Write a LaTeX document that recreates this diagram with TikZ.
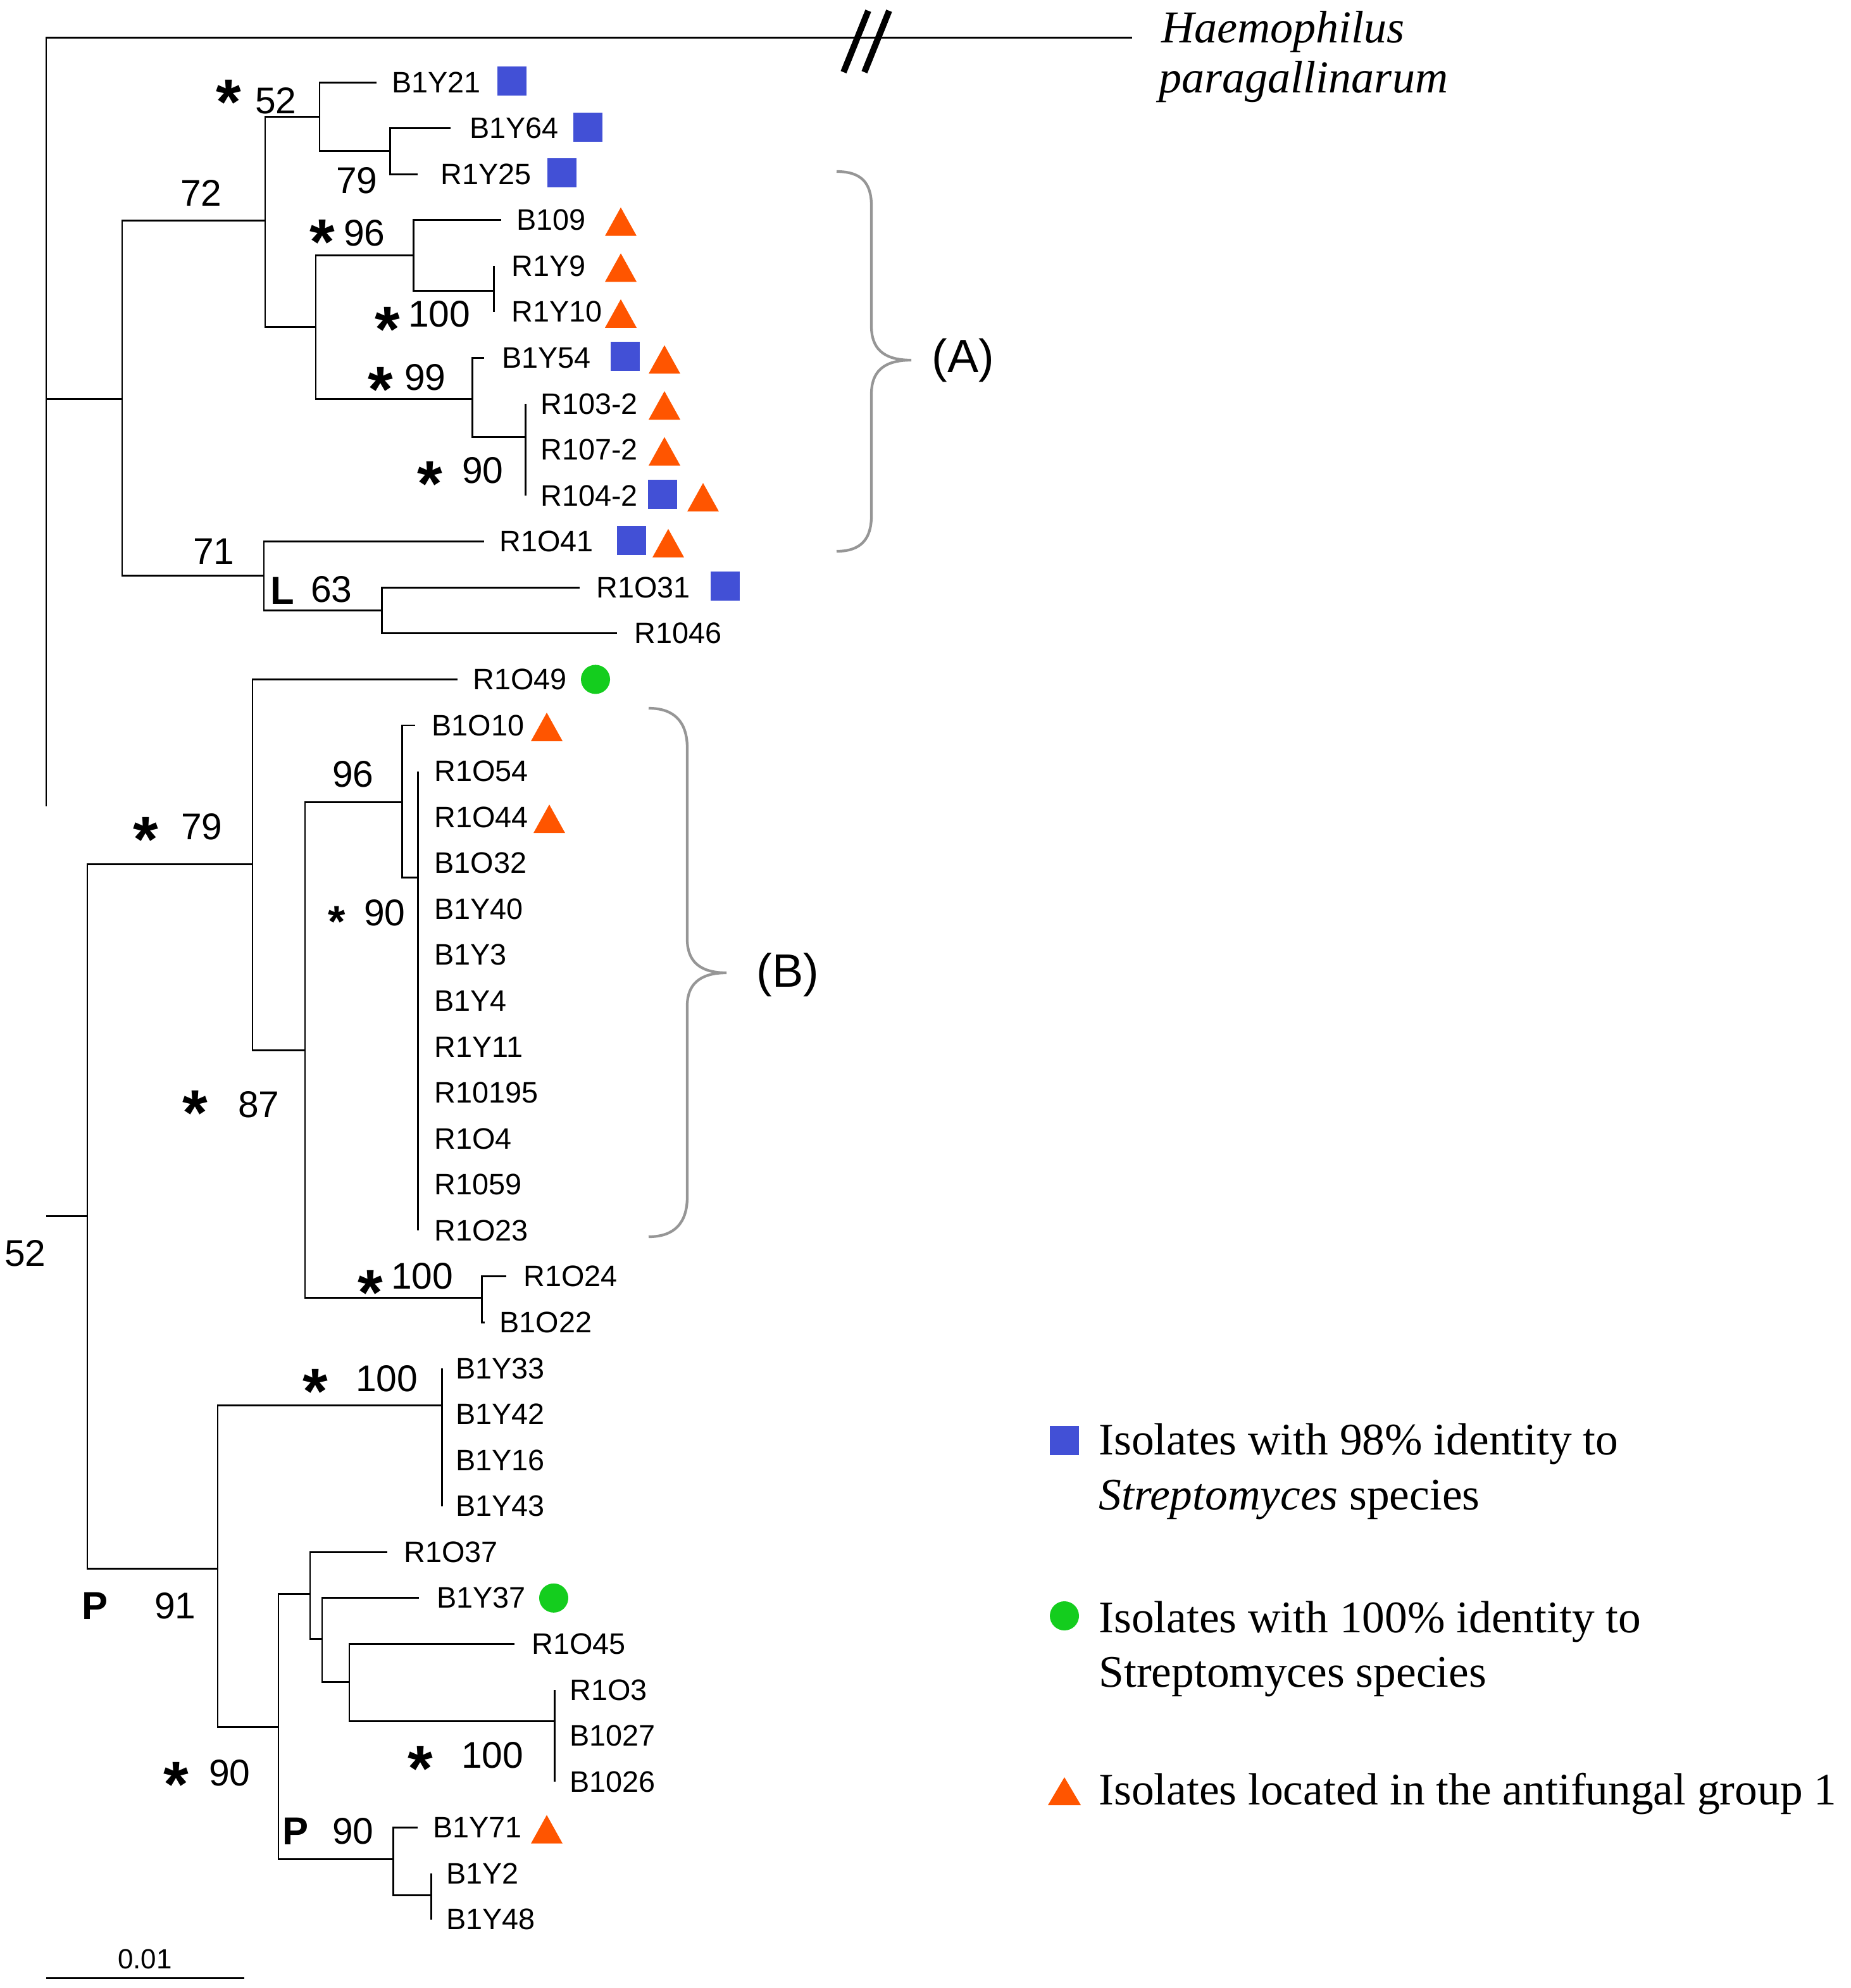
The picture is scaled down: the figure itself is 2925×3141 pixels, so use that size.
\documentclass[tikz,border=0pt]{standalone}
\usepackage{fontspec}
\setmainfont{Liberation Sans}
\newfontfamily\tms{Liberation Serif}
\definecolor{sqblue}{RGB}{66,80,214}
\definecolor{triorg}{RGB}{255,85,0}
\definecolor{cgreen}{RGB}{20,205,30}
\definecolor{brgray}{RGB}{150,150,150}
\begin{document}
\begin{tikzpicture}[x=0.01cm,y=-0.01cm,line width=0.85pt,
  leaflab/.style={anchor=west,inner sep=0pt,font=\fontsize{13.3}{16}\selectfont},
  boot/.style={inner sep=0pt,font=\fontsize{16.7}{20}\selectfont},
  bootb/.style={inner sep=0pt,font=\fontsize{17.5}{20}\selectfont\bfseries},
  ast/.style={inner sep=0pt,anchor=base,yshift=-14pt,font=\fontsize{29}{29}\selectfont\bfseries},
  asts/.style={inner sep=0pt,anchor=base,yshift=-9.6pt,font=\fontsize{20}{20}\selectfont\bfseries},
  sqm/.style={fill=sqblue,draw=none,rectangle,minimum size=0.46cm,inner sep=0pt},
  circm/.style={fill=cgreen,draw=none,circle,minimum size=0.46cm,inner sep=0pt},
  legt/.style={anchor=base west,inner sep=0pt,font=\tms\fontsize{20.3}{24}\selectfont},
  brace/.style={draw=brgray,line width=1.2pt},
  grp/.style={inner sep=0pt,font=\fontsize{21}{24}\selectfont}]
\path[use as bounding box] (0,0) rectangle (2925,3141);

% leaves
\foreach \i/\tx/\lx/\t in {0/595/618/B1Y21,1/712/741/B1Y64,2/660/695/R1Y25,3/792/815/B109,
  4/780/807/R1Y9,5/780/807/R1Y10,6/765/792/B1Y54,7/830/853/R103-2,8/830/853/R107-2,
  9/830/853/R104-2,10/765/788/R1O41,11/916/941/R1O31,12/975/1001/R1046,13/723/746/R1O49,
  14/656/681/B1O10,15/660/685/R1O54,16/660/685/R1O44,17/660/685/B1O32,18/660/685/B1Y40,
  19/660/685/B1Y3,20/660/685/B1Y4,21/660/685/R1Y11,22/660/685/R10195,23/660/685/R1O4,
  24/660/685/R1059,25/660/685/R1O23,26/800/826/R1O24,27/766/788/B1O22,28/698/719/B1Y33,
  29/698/719/B1Y42,30/698/719/B1Y16,31/698/719/B1Y43,32/612/637/R1O37,33/662/689/B1Y37,
  34/813/839/R1O45,35/876/899/R1O3,36/876/899/B1027,37/876/899/B1026,38/660/683/B1Y71,
  39/681/704/B1Y2,40/681/704/B1Y48}{
  \pgfmathsetmacro\yy{130+72.57*\i}
  \coordinate (T\i) at (\tx,\yy);
  \node[leaflab] (L\i) at (\lx,\yy) {\t};
}
% markers
\foreach \i/\sx in {0/809,1/929,2/888,6/988,9/1047,10/998,11/1146}{
  \pgfmathsetmacro\yy{130+72.57*\i-2}
  \node[sqm] (S\i) at (\sx,\yy) {};
}
\foreach \i/\sx in {3/981,4/981,5/981,6/1050,7/1050,8/1050,9/1111,10/1056,14/864,16/868,38/864}{
  \pgfmathsetmacro\yy{130+72.57*\i}
  \fill[triorg] (\sx-25,\yy+25) -- (\sx,\yy-20) -- (\sx+25,\yy+25) -- cycle;
}
\foreach \i/\sx in {13/941,33/875}{
  \pgfmathsetmacro\yy{130+72.57*\i}
  \node[circm] (G\i) at (\sx,\yy) {};
}

% internal nodes
\coordinate (R) at (73,630);
\coordinate (HP) at (1789,59);
\coordinate (Rgap) at (73,1274);
\coordinate (Rlow) at (73,1921);
\coordinate (C1) at (193,630);
\coordinate (A1) at (419,348);
\coordinate (A2) at (505,184);
\coordinate (A3) at (616,238.7);
\coordinate (A4) at (499,516);
\coordinate (A5) at (653,403);
\coordinate (A6) at (780,459);
\coordinate (A7) at (746,630);
\coordinate (A8) at (830,690);
\coordinate (B1) at (417,909);
\coordinate (B2) at (603,964);
\coordinate (C2) at (138,1921);
\coordinate (D1) at (399,1365);
\coordinate (D2) at (482,1659);
\coordinate (D3) at (635,1267);
\coordinate (D4) at (660,1386);
\coordinate (D5) at (761,2050);
\coordinate (E1) at (344,2478);
\coordinate (E2) at (698,2220);
\coordinate (E3) at (440,2728);
\coordinate (E4) at (490,2518);
\coordinate (E5) at (509,2589);
\coordinate (E6) at (552,2657);
\coordinate (E7) at (876,2719);
\coordinate (E8) at (621,2937);
\coordinate (E9) at (681,2994);

% edges
\draw (R) |- (HP);
\draw (R) -- (C1);
\draw (R) -- (Rgap);
\draw (Rlow) -- (C2);
\draw (C1) |- (A1); \draw (C1) |- (B1);
\draw (A1) |- (A2); \draw (A1) |- (A4);
\draw (A2) |- (T0); \draw (A2) |- (A3);
\draw (A3) |- (T1); \draw (A3) |- (T2);
\draw (A4) |- (A5); \draw (A4) |- (A7);
\draw (A5) |- (T3); \draw (A5) |- (A6);
\draw (A6) |- (T4); \draw (A6) |- (T5);
\draw (A7) |- (T6); \draw (A7) |- (A8);
\draw (A8) |- (T7); \draw (A8) |- (T8); \draw (A8) |- (T9);
\draw (B1) |- (T10); \draw (B1) |- (B2);
\draw (B2) |- (T11); \draw (B2) |- (T12);
\draw (C2) |- (D1); \draw (C2) |- (E1);
\draw (D1) |- (T13); \draw (D1) |- (D2);
\draw (D2) |- (D3); \draw (D2) |- (D5);
\draw (D3) |- (T14); \draw (D3) |- (D4);
\draw (D4) |- (T15); \draw (D4) |- (T25);
\draw (D5) |- (T26); \draw (D5) |- (T27);
\draw (E1) |- (E2); \draw (E1) |- (E3);
\draw (E2) |- (T28); \draw (E2) |- (T31);
\draw (E3) |- (E4); \draw (E3) |- (E8);
\draw (E4) |- (T32); \draw (E4) |- (E5);
\draw (E5) |- (T33); \draw (E5) |- (E6);
\draw (E6) |- (T34); \draw (E6) |- (E7);
\draw (E7) |- (T35); \draw (E7) |- (T37);
\draw (E8) |- (T38); \draw (E8) |- (E9);
\draw (E9) |- (T39); \draw (E9) |- (T40);

% break mark
\coordinate (k1a) at (1372,17); \coordinate (k1b) at (1333,114);
\coordinate (k2a) at (1405,17); \coordinate (k2b) at (1366,114);
\draw[line width=2.8pt] (k1a) -- (k1b);
\draw[line width=2.8pt] (k2a) -- (k2b);

% outgroup label
\node[legt,font=\tms\itshape\fontsize{20.5}{24}\selectfont] (hp1) at (1834,67) {Haemophilus};
\node[legt,font=\tms\itshape\fontsize{20.5}{24}\selectfont] (hp2) at (1830,146) {paragallinarum};

% bootstrap values
\node[ast] (a1) at (361,147) {*}; \node[boot] (b1) at (436,159) {52};
\node[boot] (b2) at (318,305) {72};
\node[boot] (b3) at (564,285) {79};
\node[ast] (a4) at (509,368) {*}; \node[boot] (b4) at (576,368) {96};
\node[ast] (a5) at (612,506) {*}; \node[boot] (b5) at (694,496) {100};
\node[ast] (a6) at (601,601) {*}; \node[boot] (b6) at (672,596) {99};
\node[ast] (a7) at (679,750) {*}; \node[boot] (b7) at (763,743) {90};
\node[boot] (b8) at (338,871) {71};
\node[bootb] (l9) at (446,933) {L}; \node[boot] (b9) at (524,931) {63};
\node[ast] (a10) at (230,1312) {*}; \node[boot] (b10) at (319,1306) {79};
\node[boot] (b11) at (558,1223) {96};
\node[asts] (a12) at (532,1447) {*}; \node[boot] (b12) at (608,1442) {90};
\node[ast] (a13) at (308,1744) {*}; \node[boot] (b13) at (409,1745) {87};
\node[ast] (a14) at (585,2028) {*}; \node[boot] (b14) at (667,2016) {100};
\node[boot] (b15) at (40,1980) {52};
\node[ast] (a16) at (498,2184) {*}; \node[boot] (b16) at (611,2178) {100};
\node[bootb] (p17) at (150,2537) {P}; \node[boot] (b17) at (277,2537) {91};
\node[ast] (a18) at (278,2805) {*}; \node[boot] (b18) at (363,2801) {90};
\node[ast] (a19) at (664,2780) {*}; \node[boot] (b19) at (778,2773) {100};
\node[bootb] (p20) at (467,2893) {P}; \node[boot] (b20) at (558,2893) {90};

% braces
\draw[brace] (1322,271) .. controls (1362,271) and (1377,290) .. (1377,325) -- (1377,515)
  .. controls (1377,550) and (1395,569) .. (1440,569)
  .. controls (1395,569) and (1377,588) .. (1377,623) -- (1377,815)
  .. controls (1377,850) and (1362,871) .. (1322,871);
\node[grp] (gA) at (1522,569) {(A)};
\draw[brace] (1025,1119) .. controls (1065,1119) and (1086,1140) .. (1086,1182) -- (1086,1484)
  .. controls (1086,1518) and (1105,1537) .. (1148,1537)
  .. controls (1105,1537) and (1086,1556) .. (1086,1589) -- (1086,1891)
  .. controls (1086,1933) and (1065,1954) .. (1025,1954);
\node[grp] (gB) at (1245,1540) {(B)};

% scale bar
\coordinate (sb1) at (73,3125); \coordinate (sb2) at (386,3125);
\draw (sb1) -- (sb2);
\node[inner sep=0pt,font=\fontsize{12.5}{14}\selectfont] (sbl) at (229,3095) {0.01};

% legend
\node[sqm] (k1) at (1682,2276) {};
\node[legt] (t1a) at (1735,2298) {Isolates with 98\% identity to};
\node[legt] (t1b) at (1735,2385) {\itshape Streptomyces\upshape{} species};
\node[circm] (k2) at (1682,2553) {};
\node[legt] (t2a) at (1735,2579) {Isolates with 100\% identity to};
\node[legt] (t2b) at (1735,2665) {Streptomyces species};
\fill[triorg] (1656,2852) -- (1682,2808) -- (1708,2852) -- cycle;
\node[legt] (t3) at (1735,2851) {Isolates located in the antifungal group 1};
\end{tikzpicture}
\end{document}
